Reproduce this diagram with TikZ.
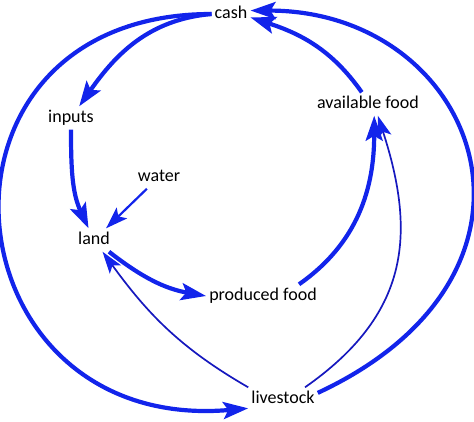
\documentclass[tikz,border=0pt]{standalone}
\usepackage{fontspec}
\setmainfont{Carlito}
\usepackage{tikz}
\usetikzlibrary{arrows.meta}
\definecolor{loopblue}{RGB}{18,36,235}
\definecolor{thinblue}{RGB}{22,24,190}
\tikzset{
  var/.style={font=\fontsize{18}{20}\selectfont, text height=13pt,
              text depth=4pt, inner sep=3pt},
  link/.style={-{Stealth[length=25pt, width=17pt, inset=5pt]},
               line width=4.2pt, draw=loopblue},
  wlink/.style={-{Stealth[length=22pt, width=15pt, inset=5pt]},
                line width=2.2pt, draw=loopblue},
  thinlink/.style={-{Stealth[length=22pt, width=14pt, inset=5pt, color=loopblue]},
                   line width=1.7pt, draw=thinblue},
}

\begin{document}
\begin{tikzpicture}[x=1pt, y=-1pt]
  \useasboundingbox (0,0) rectangle (474,421);

  \node[var] (cash)      at (231,14)  {cash};
  \node[var] (inputs)    at (71,118)  {inputs};
  \node[var] (water)     at (159,177) {water};
  \node[var] (land)      at (94,240)  {land};
  \node[var] (pfood)     at (263,296) {produced food};
  \node[var] (afood)     at (368,104) {available food};
  \node[var] (livestock) at (283,399) {livestock};

  % --- from cash ---
  \draw[link] (cash.west) to[out=185, in=55] (inputs);
  \draw[link] (cash.west) to[out=180, in=185, looseness=1.97] (livestock.195);

  % --- land and food ---
  \draw[link] (inputs) to[out=-90, in=115] (land);
  \draw[wlink] (water) -- (land);
  \draw[link] (land) to[out=-38, in=170] (pfood.west);
  \draw[link] (pfood.18) to[out=35, in=-90] (afood.-62);
  \draw[link] (afood.118) to[out=125, in=-18] (cash.-10);

  % --- from livestock ---
  \draw[thinlink] (livestock.north west) to[out=150, in=-54] (land);
  \draw[thinlink] (livestock.28) to[out=35, in=-72, looseness=1.15] (afood.-50);
  \draw[link] (livestock.10) to[out=25, in=0, out looseness=1.9,
                                in looseness=1.5] (cash.10);

\end{tikzpicture}
\end{document}
